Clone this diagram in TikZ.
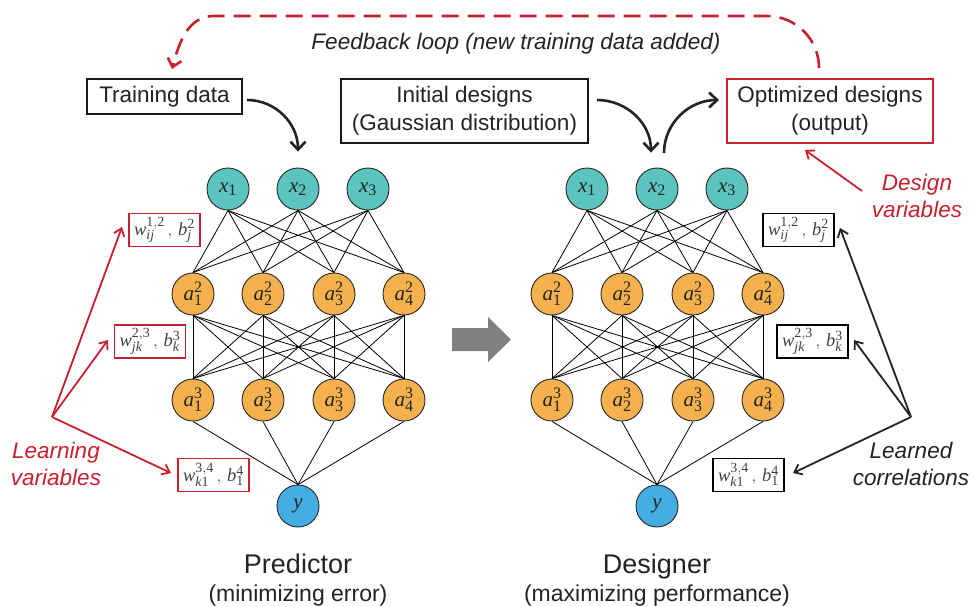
\documentclass[tikz,border=0pt]{standalone}
\usepackage{fontspec}
\setmainfont{Liberation Sans}
\setmathrm{Liberation Serif}
\DeclareMathSizes{21}{21}{16}{12}
\DeclareMathSizes{18.5}{18.5}{14}{10}
\usetikzlibrary{arrows.meta}
\definecolor{cteal}{RGB}{91,196,190}
\definecolor{corange}{RGB}{244,177,78}
\definecolor{cblue}{RGB}{68,174,226}
\definecolor{cred}{RGB}{200,32,46}
\definecolor{cgray}{RGB}{128,128,128}
\definecolor{ctext}{RGB}{35,35,35}
\tikzset{
  neuron/.style={circle, draw=black!85, line width=0.9pt, minimum size=42pt, inner sep=0pt, text=ctext, font=\fontsize{21}{24}\selectfont},
  inode/.style={neuron, fill=cteal},
  hnode/.style={neuron, fill=corange},
  onode/.style={neuron, fill=cblue},
  edge/.style={line width=0.8pt, black},
  labbox/.style={draw=black!90, line width=1.6pt, inner sep=0pt, align=center, text=ctext, font=\fontsize{22.5}{28}\selectfont},
  wbox/.style={draw, line width=1.6pt, inner sep=0pt, minimum width=71pt, minimum height=33pt, text=black!75, font=\fontsize{18.5}{20}\selectfont},
  bigarrow/.style={line width=2.6pt, ctext, -{Straight Barb[length=8pt,width=15pt]}},
  thinarrow/.style={line width=1.8pt, -{Straight Barb[length=7pt,width=11pt]}},
  lab/.style={font=\fontsize{22.5}{27}\selectfont\itshape, align=center, anchor=base},
}
\newcommand\mv[1]{\mathit{#1}}
\newcommand\drawnet[2]{%
  \foreach \i/\xx in {1/228,2/298,3/368} \node[inode] (#1x\i) at (\xx+#2,189) {$\mv{x}_{\mathrm{\i}}$};
  \foreach \i/\xx in {1/193,2/263,3/334,4/404} \node[hnode] (#1a\i) at (\xx+#2,294) {$\mv{a}^{\mathrm{2}}_{\mathrm{\i}}$};
  \foreach \i/\xx in {1/193,2/263,3/334,4/404} \node[hnode] (#1b\i) at (\xx+#2,400) {$\mv{a}^{\mathrm{3}}_{\mathrm{\i}}$};
  \node[onode] (#1y) at (298+#2,506) {$\mv{y}$};
  \foreach \i in {1,2,3} \foreach \j in {1,...,4} \draw[edge] (#1x\i.south) -- (#1a\j.north);
  \foreach \i in {1,...,4} \foreach \j in {1,...,4} \draw[edge] (#1a\i.south) -- (#1b\j.north);
  \foreach \i in {1,...,4} \draw[edge] (#1b\i.south) -- (#1y.north);
}
\newcommand\wa{$\mv{w}_{\mv{ij}}^{\mathrm{1,2}}\,,\, \mv{b}_{\mv{j}}^{\mathrm{2}}$}
\newcommand\wb{$\mv{w}_{\mv{jk}}^{\mathrm{2,3}}\,,\, \mv{b}_{\mv{k}}^{\mathrm{3}}$}
\newcommand\wc{$\mv{w}_{\mv{k}\mathrm{1}}^{\mathrm{3,4}}\,,\, \mv{b}_{\mathrm{1}}^{\mathrm{4}}$}
\begin{document}
\begin{tikzpicture}[x=1pt,y=-1pt]
\useasboundingbox (0,0) rectangle (974,606);

% networks
\drawnet{L}{0}
\drawnet{R}{359}

% top boxes
\node[labbox, minimum width=155pt, minimum height=35pt] (td) at (164.5,96.5) {Training data};
\node[labbox, minimum width=247pt, minimum height=64pt] (init) at (464.5,111) {Initial designs\\(Gaussian distribution)};
\node[labbox, draw=cred, minimum width=206pt, minimum height=64pt] (opt) at (830,111) {Optimized designs\\(output)};

% curved arrows
\coordinate (tdS) at (247,100);
\coordinate (inS) at (597,100);
\draw[bigarrow] (tdS) to[out=0,in=90] ([yshift=16]Lx2.north);
\draw[bigarrow] (inS) to[out=0,in=90] ([xshift=-6,yshift=15]Rx2.north);
\coordinate (x2T) at (664,153);
\coordinate (optW) at (719,100);
\draw[bigarrow] (x2T) to[out=90,in=180] (optW);

% feedback loop
\coordinate (fbS) at (819,68);
\coordinate (fbT) at (172,69);
\draw[cred, line width=2.6pt, dash pattern=on 17pt off 9pt, -{Straight Barb[length=8pt,width=14pt]}]
  (fbS) to[out=90,in=0] (767,16) -- (214,16) to[out=180,in=75] (fbT);
\node[lab, text=ctext] (fbtext) at (516,49) {Feedback loop (new training data added)};

% design variables
\node[lab, text=cred] (dv) at (917,217) {Design\\variables};
\coordinate (dvS) at (862,191);
\coordinate (dvT) at (805,150);
\draw[thinarrow, cred] (dvS) -- (dvT);

% weight boxes left
\node[wbox, draw=cred] (L1) at (164.5,230) {\wa};
\node[wbox, draw=cred] (L2) at (150,341.5) {\wb};
\node[wbox, draw=cred] (L3) at (213.5,475) {\wc};
% weight boxes right
\node[wbox, draw=black] (R1) at (798.5,230) {\wa};
\node[wbox, draw=black] (R2) at (812.5,341.5) {\wb};
\node[wbox, draw=black] (R3) at (748.5,475) {\wc};

% learning variables
\coordinate (lo) at (52,417);
\node[lab, text=cred] (lv) at (56,485) {Learning\\variables};
\draw[thinarrow, cred] (lo) -- (122,227);
\draw[thinarrow, cred] (lo) -- (108,340);
\draw[thinarrow, cred] (lo) -- (171,473);

% learned correlations
\coordinate (ro) at (911,417);
\node[lab, text=ctext] (lc) at (911,485) {Learned\\correlations};
\draw[thinarrow, ctext] (ro) -- (840,228);
\draw[thinarrow, ctext] (ro) -- (854,340);
\draw[thinarrow, ctext] (ro) -- (793,473);

% big gray arrow
\fill[cgray] (452,328) -- (488,328) -- (488,317) -- (511,339.5) -- (488,362) -- (488,351) -- (452,351) -- cycle;

% captions
\node[anchor=base, text=ctext, font=\fontsize{27}{30}\selectfont] (pred) at (298,573) {Predictor};
\node[anchor=base, text=ctext, font=\fontsize{23}{26}\selectfont] (predsub) at (298,601) {(minimizing error)};
\node[anchor=base, text=ctext, font=\fontsize{27}{30}\selectfont] (des) at (657,573) {Designer};
\node[anchor=base, text=ctext, font=\fontsize{23}{26}\selectfont] (dessub) at (657,601) {(maximizing performance)};
\end{tikzpicture}
\end{document}
